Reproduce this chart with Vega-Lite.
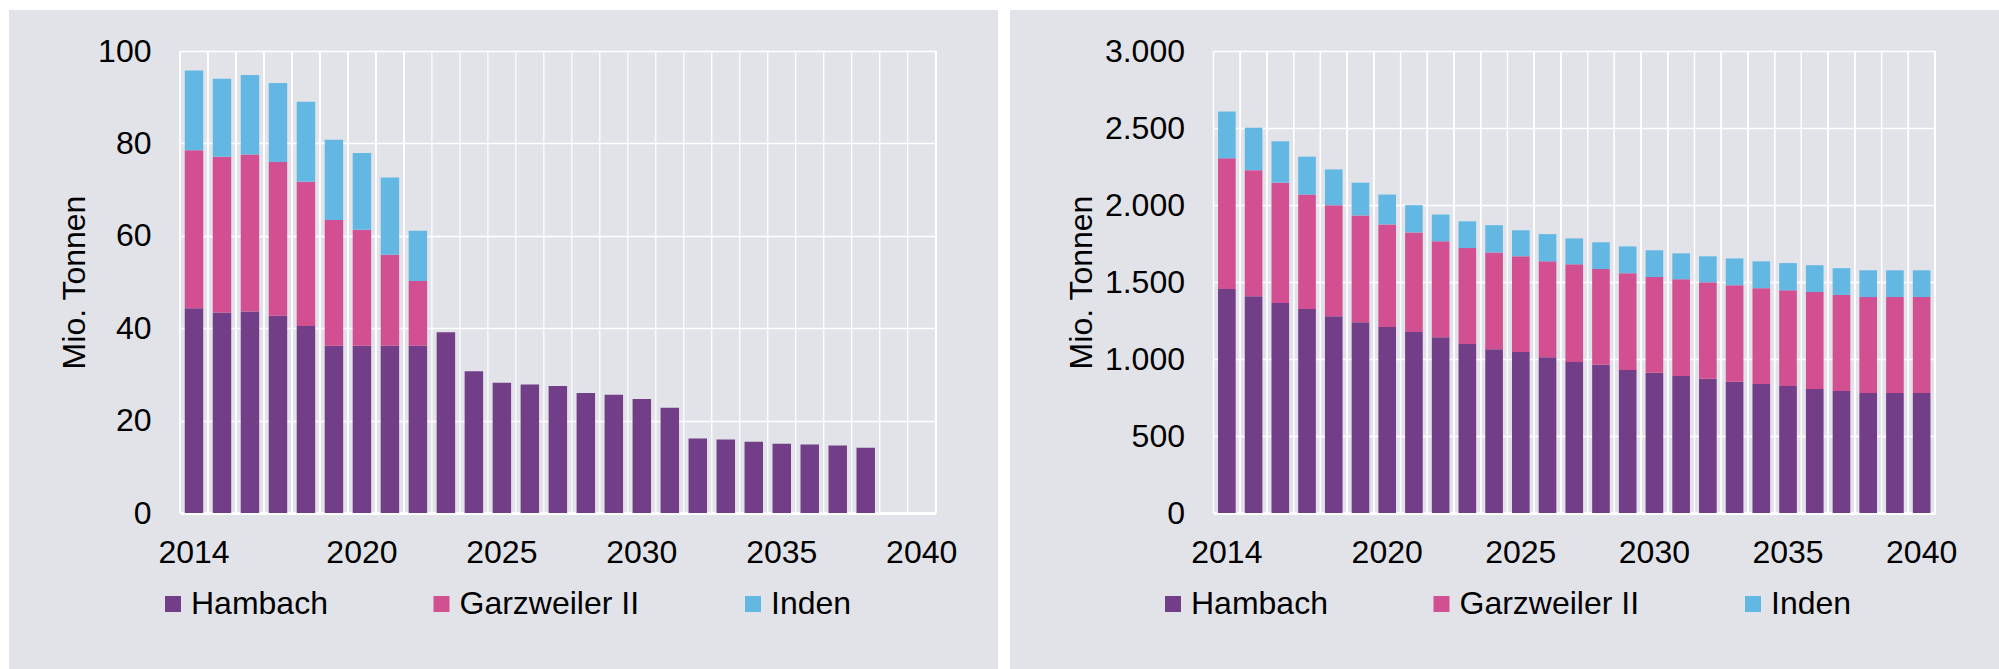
{
  "$schema": "https://vega.github.io/schema/vega-lite/v6.json",
  "background": "white",
  "padding": {"left": 9, "top": 10, "right": 0, "bottom": 0},
  "spacing": 12,
  "bounds": "flush",
  "resolve": {"scale": {"color": "independent"}, "legend": {"color": "independent"}},
  "hconcat": [
    {
      "width": 989,
      "height": 659,
      "data": {"values": [
        {"year": 2014, "mine": "Hambach", "value": 44.3}, {"year": 2014, "mine": "Garzweiler II", "value": 34.2}, {"year": 2014, "mine": "Inden", "value": 17.3},
        {"year": 2015, "mine": "Hambach", "value": 43.4}, {"year": 2015, "mine": "Garzweiler II", "value": 33.7}, {"year": 2015, "mine": "Inden", "value": 16.9},
        {"year": 2016, "mine": "Hambach", "value": 43.6}, {"year": 2016, "mine": "Garzweiler II", "value": 34.0}, {"year": 2016, "mine": "Inden", "value": 17.2},
        {"year": 2017, "mine": "Hambach", "value": 42.7}, {"year": 2017, "mine": "Garzweiler II", "value": 33.3}, {"year": 2017, "mine": "Inden", "value": 17.1},
        {"year": 2018, "mine": "Hambach", "value": 40.5}, {"year": 2018, "mine": "Garzweiler II", "value": 31.2}, {"year": 2018, "mine": "Inden", "value": 17.3},
        {"year": 2019, "mine": "Hambach", "value": 36.2}, {"year": 2019, "mine": "Garzweiler II", "value": 27.2}, {"year": 2019, "mine": "Inden", "value": 17.4},
        {"year": 2020, "mine": "Hambach", "value": 36.2}, {"year": 2020, "mine": "Garzweiler II", "value": 25.1}, {"year": 2020, "mine": "Inden", "value": 16.6},
        {"year": 2021, "mine": "Hambach", "value": 36.2}, {"year": 2021, "mine": "Garzweiler II", "value": 19.7}, {"year": 2021, "mine": "Inden", "value": 16.7},
        {"year": 2022, "mine": "Hambach", "value": 36.2}, {"year": 2022, "mine": "Garzweiler II", "value": 14.0}, {"year": 2022, "mine": "Inden", "value": 10.9},
        {"year": 2023, "mine": "Hambach", "value": 39.1},
        {"year": 2024, "mine": "Hambach", "value": 30.7},
        {"year": 2025, "mine": "Hambach", "value": 28.2},
        {"year": 2026, "mine": "Hambach", "value": 27.8},
        {"year": 2027, "mine": "Hambach", "value": 27.5},
        {"year": 2028, "mine": "Hambach", "value": 26.0},
        {"year": 2029, "mine": "Hambach", "value": 25.6},
        {"year": 2030, "mine": "Hambach", "value": 24.7},
        {"year": 2031, "mine": "Hambach", "value": 22.8},
        {"year": 2032, "mine": "Hambach", "value": 16.1},
        {"year": 2033, "mine": "Hambach", "value": 15.9},
        {"year": 2034, "mine": "Hambach", "value": 15.4},
        {"year": 2035, "mine": "Hambach", "value": 15.0},
        {"year": 2036, "mine": "Hambach", "value": 14.8},
        {"year": 2037, "mine": "Hambach", "value": 14.6},
        {"year": 2038, "mine": "Hambach", "value": 14.1},
        {"year": 2039, "mine": "Hambach", "value": 0},
        {"year": 2040, "mine": "Hambach", "value": 0}
      ]},
      "layer": [
        {
          "mark": {"type": "bar", "width": {"band": 0.66}},
          "encoding": {
            "x": {
              "field": "year", "type": "ordinal",
              "scale": {"domain": [2014,2015,2016,2017,2018,2019,2020,2021,2022,2023,2024,2025,2026,2027,2028,2029,2030,2031,2032,2033,2034,2035,2036,2037,2038,2039,2040], "range": [171, 926.7], "paddingInner": 0, "paddingOuter": 0},
              "axis": {"orient": "bottom", "offset": -156, "title": null, "grid": false, "bandPosition": 0.5, "domain": true, "domainColor": "white", "domainWidth": 3, "ticks": false, "labelAngle": 0, "labelAlign": "center", "labelPadding": 24, "labelExpr": "(datum.value == 2014 || (datum.value >= 2020 && datum.value % 5 == 0)) ? '' + datum.value : ''"}
            },
            "y": {
              "field": "value", "type": "quantitative", "stack": "zero",
              "scale": {"domain": [0, 100], "range": [503, 41], "nice": false, "zero": true},
              "axis": {"orient": "left", "offset": -171, "values": [0, 20, 40, 60, 80, 100], "grid": true, "gridColor": "white", "gridWidth": 1.5, "domain": false, "ticks": false, "labelPadding": 29, "labelFlush": false, "title": "Mio. Tonnen", "titlePadding": 6}
            },
            "order": {"field": "year", "type": "quantitative"},
            "color": {
              "field": "mine", "type": "nominal",
              "sort": ["Hambach", "Garzweiler II", "Inden"],
              "scale": {"domain": ["Hambach", "Garzweiler II", "Inden"], "range": ["#723e87", "#d24f92", "#63b8e3"]},
              "legend": {"orient": "none", "legendX": 148, "legendY": 578, "direction": "horizontal", "title": null}
            }
          }
        },
        {
          "mark": {"type": "rule", "color": "white", "strokeWidth": 1.2},
          "encoding": {
            "x": {"field": "year", "type": "ordinal", "bandPosition": 0},
            "y": {"datum": 0, "type": "quantitative"},
            "y2": {"datum": 100}
          }
        },
        {
          "mark": {"type": "rule", "color": "white", "strokeWidth": 1.3},
          "encoding": {
            "x": {"datum": 2040, "type": "ordinal", "bandPosition": 1},
            "y": {"datum": 0, "type": "quantitative"},
            "y2": {"datum": 100}
          }
        }
      ]
    },
    {
      "width": 989,
      "height": 659,
      "data": {"values": [
        {"year": 2014, "mine": "Hambach", "value": 1454}, {"year": 2014, "mine": "Garzweiler II", "value": 849}, {"year": 2014, "mine": "Inden", "value": 304},
        {"year": 2015, "mine": "Hambach", "value": 1407}, {"year": 2015, "mine": "Garzweiler II", "value": 819}, {"year": 2015, "mine": "Inden", "value": 276},
        {"year": 2016, "mine": "Hambach", "value": 1363}, {"year": 2016, "mine": "Garzweiler II", "value": 782}, {"year": 2016, "mine": "Inden", "value": 269},
        {"year": 2017, "mine": "Hambach", "value": 1324}, {"year": 2017, "mine": "Garzweiler II", "value": 744}, {"year": 2017, "mine": "Inden", "value": 246},
        {"year": 2018, "mine": "Hambach", "value": 1277}, {"year": 2018, "mine": "Garzweiler II", "value": 722}, {"year": 2018, "mine": "Inden", "value": 232},
        {"year": 2019, "mine": "Hambach", "value": 1239}, {"year": 2019, "mine": "Garzweiler II", "value": 693}, {"year": 2019, "mine": "Inden", "value": 213},
        {"year": 2020, "mine": "Hambach", "value": 1208}, {"year": 2020, "mine": "Garzweiler II", "value": 666}, {"year": 2020, "mine": "Inden", "value": 194},
        {"year": 2021, "mine": "Hambach", "value": 1175}, {"year": 2021, "mine": "Garzweiler II", "value": 647}, {"year": 2021, "mine": "Inden", "value": 177},
        {"year": 2022, "mine": "Hambach", "value": 1142}, {"year": 2022, "mine": "Garzweiler II", "value": 622}, {"year": 2022, "mine": "Inden", "value": 174},
        {"year": 2023, "mine": "Hambach", "value": 1098}, {"year": 2023, "mine": "Garzweiler II", "value": 622}, {"year": 2023, "mine": "Inden", "value": 174},
        {"year": 2024, "mine": "Hambach", "value": 1064}, {"year": 2024, "mine": "Garzweiler II", "value": 628}, {"year": 2024, "mine": "Inden", "value": 177},
        {"year": 2025, "mine": "Hambach", "value": 1045}, {"year": 2025, "mine": "Garzweiler II", "value": 622}, {"year": 2025, "mine": "Inden", "value": 169},
        {"year": 2026, "mine": "Hambach", "value": 1012}, {"year": 2026, "mine": "Garzweiler II", "value": 622}, {"year": 2026, "mine": "Inden", "value": 177},
        {"year": 2027, "mine": "Hambach", "value": 981}, {"year": 2027, "mine": "Garzweiler II", "value": 634}, {"year": 2027, "mine": "Inden", "value": 168},
        {"year": 2028, "mine": "Hambach", "value": 962}, {"year": 2028, "mine": "Garzweiler II", "value": 622}, {"year": 2028, "mine": "Inden", "value": 174},
        {"year": 2029, "mine": "Hambach", "value": 929}, {"year": 2029, "mine": "Garzweiler II", "value": 628}, {"year": 2029, "mine": "Inden", "value": 174},
        {"year": 2030, "mine": "Hambach", "value": 910}, {"year": 2030, "mine": "Garzweiler II", "value": 622}, {"year": 2030, "mine": "Inden", "value": 174},
        {"year": 2031, "mine": "Hambach", "value": 890}, {"year": 2031, "mine": "Garzweiler II", "value": 628}, {"year": 2031, "mine": "Inden", "value": 168},
        {"year": 2032, "mine": "Hambach", "value": 871}, {"year": 2032, "mine": "Garzweiler II", "value": 627}, {"year": 2032, "mine": "Inden", "value": 169},
        {"year": 2033, "mine": "Hambach", "value": 852}, {"year": 2033, "mine": "Garzweiler II", "value": 627}, {"year": 2033, "mine": "Inden", "value": 174},
        {"year": 2034, "mine": "Hambach", "value": 838}, {"year": 2034, "mine": "Garzweiler II", "value": 622}, {"year": 2034, "mine": "Inden", "value": 174},
        {"year": 2035, "mine": "Hambach", "value": 824}, {"year": 2035, "mine": "Garzweiler II", "value": 622}, {"year": 2035, "mine": "Inden", "value": 177},
        {"year": 2036, "mine": "Hambach", "value": 805}, {"year": 2036, "mine": "Garzweiler II", "value": 630}, {"year": 2036, "mine": "Inden", "value": 174},
        {"year": 2037, "mine": "Hambach", "value": 793}, {"year": 2037, "mine": "Garzweiler II", "value": 623}, {"year": 2037, "mine": "Inden", "value": 174},
        {"year": 2038, "mine": "Hambach", "value": 779}, {"year": 2038, "mine": "Garzweiler II", "value": 623}, {"year": 2038, "mine": "Inden", "value": 174},
        {"year": 2039, "mine": "Hambach", "value": 779}, {"year": 2039, "mine": "Garzweiler II", "value": 623}, {"year": 2039, "mine": "Inden", "value": 174},
        {"year": 2040, "mine": "Hambach", "value": 779}, {"year": 2040, "mine": "Garzweiler II", "value": 623}, {"year": 2040, "mine": "Inden", "value": 174}
      ]},
      "layer": [
        {
          "mark": {"type": "bar", "width": {"band": 0.66}},
          "encoding": {
            "x": {
              "field": "year", "type": "ordinal",
              "scale": {"domain": [2014,2015,2016,2017,2018,2019,2020,2021,2022,2023,2024,2025,2026,2027,2028,2029,2030,2031,2032,2033,2034,2035,2036,2037,2038,2039,2040], "range": [203.5, 925], "paddingInner": 0, "paddingOuter": 0},
              "axis": {"orient": "bottom", "offset": -156, "title": null, "grid": false, "bandPosition": 0.5, "domain": true, "domainColor": "white", "domainWidth": 3, "ticks": false, "labelAngle": 0, "labelAlign": "center", "labelPadding": 24, "labelExpr": "(datum.value == 2014 || (datum.value >= 2020 && datum.value % 5 == 0)) ? '' + datum.value : ''"}
            },
            "y": {
              "field": "value", "type": "quantitative", "stack": "zero",
              "scale": {"domain": [0, 3000], "range": [503, 41], "nice": false, "zero": true},
              "axis": {"orient": "left", "offset": -203.5, "values": [0, 500, 1000, 1500, 2000, 2500, 3000], "grid": true, "gridColor": "white", "gridWidth": 1.5, "domain": false, "ticks": false, "labelPadding": 29, "labelFlush": false, "labelExpr": "replace(format(datum.value, ','), ',', '.')", "title": "Mio. Tonnen", "titlePadding": 6}
            },
            "order": {"field": "year", "type": "quantitative"},
            "color": {
              "field": "mine", "type": "nominal",
              "sort": ["Hambach", "Garzweiler II", "Inden"],
              "scale": {"domain": ["Hambach", "Garzweiler II", "Inden"], "range": ["#723e87", "#d24f92", "#63b8e3"]},
              "legend": {"orient": "none", "legendX": 147, "legendY": 578, "direction": "horizontal", "title": null}
            }
          }
        },
        {
          "mark": {"type": "rule", "color": "white", "strokeWidth": 1.2},
          "encoding": {
            "x": {"field": "year", "type": "ordinal", "bandPosition": 0},
            "y": {"datum": 0, "type": "quantitative"},
            "y2": {"datum": 3000}
          }
        },
        {
          "mark": {"type": "rule", "color": "white", "strokeWidth": 1.3},
          "encoding": {
            "x": {"datum": 2040, "type": "ordinal", "bandPosition": 1},
            "y": {"datum": 0, "type": "quantitative"},
            "y2": {"datum": 3000}
          }
        }
      ]
    }
  ],
  "config": {
    "font": "Liberation Sans",
    "view": {"fill": "#e2e3e8", "stroke": null},
    "axis": {"labelFont": "Liberation Sans", "labelFontSize": 32, "labelColor": "#000000", "titleFont": "Liberation Sans", "titleFontSize": 32, "titleFontWeight": "normal", "titleColor": "#000000", "labelOverlap": false, "tickSize": 0},
    "legend": {"labelFont": "Liberation Sans", "labelFontSize": 32, "labelColor": "#000000", "labelLimit": 400, "symbolType": "square", "symbolSize": 256, "symbolStrokeWidth": 0, "labelOffset": 2, "columnPadding": 97.5, "padding": 0}
  }
}
